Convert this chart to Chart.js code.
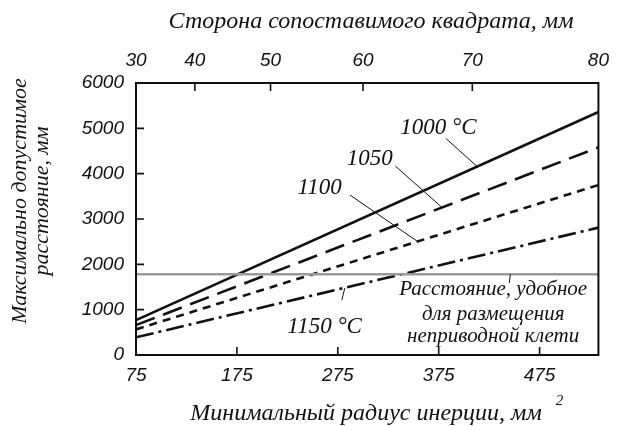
<!DOCTYPE html>
<html>
<head>
<meta charset="utf-8">
<script src="https://cdn.jsdelivr.net/npm/chart.js@4.4.0/dist/chart.umd.min.js"></script>
<style>
html, body { margin: 0; padding: 0; background: #fff; }
</style>
</head>
<body>
<canvas id="c" width="620" height="426"></canvas>
<script>
// minimal radius of inertia (bottom axis)
const radius = [75, 533.33];
// allowed distance for each rolling temperature
const t1000 = [770, 5360];
const t1050 = [660, 4580];
const t1100 = [565, 3750];
const t1150 = [390, 2810];
// distance convenient for the idle stand
const convenient = [1780, 1780];

const xTicks = [75, 175, 275, 375, 475];
const yTicks = [0, 1000, 2000, 3000, 4000, 5000, 6000];
const sideTicks = [30, 40, 50, 60, 70, 80];   // side of comparable square, mm

const serif = '"Liberation Serif", "DejaVu Serif", serif';
const sans = '"Liberation Sans", Arial, sans-serif';

Chart.defaults.font.family = sans;
Chart.defaults.font.size = 19;
Chart.defaults.font.style = 'italic';
Chart.defaults.color = '#111';

function pts(ys) {
	return radius.map((x, i) => ({ x: x, y: ys[i] }));
}

const labels = [
	{ text: '1000 °C', x: 337, y: 4880, from: [382, 4780], to: [413, 4160] },
	{ text: '1050', x: 284, y: 4190, from: [332, 4170], to: [378, 3260] },
	{ text: '1100', x: 235, y: 3550, from: [287, 3530], to: [354, 2505] },
	{ text: '1150 °C', x: 225, y: 485, from: [282, 1480], to: [279, 1210] }
];

const drawExtras = {
	id: 'drawExtras',
	afterDraw(chart) {
		const ctx = chart.ctx;
		const a = chart.chartArea;
		const sx = chart.scales.x, sy = chart.scales.y, st = chart.scales.x2;
		ctx.save();
		ctx.strokeStyle = '#111';
		ctx.lineWidth = 2;
		ctx.strokeRect(a.left, a.top, a.right - a.left, a.bottom - a.top);

		// inward tick marks
		ctx.lineWidth = 1.6;
		ctx.beginPath();
		xTicks.slice(1).forEach(v => {
			const px = sx.getPixelForValue(v);
			ctx.moveTo(px, a.bottom); ctx.lineTo(px, a.bottom - 8);
		});
		yTicks.slice(1, -1).forEach(v => {
			const py = sy.getPixelForValue(v);
			ctx.moveTo(a.left, py); ctx.lineTo(a.left + 8, py);
		});
		sideTicks.slice(1, -1).forEach(s => {
			const px = st.getPixelForValue(s * s / 12);
			ctx.moveTo(px, a.top); ctx.lineTo(px, a.top + 8);
		});
		ctx.stroke();

		// curve labels with leader lines
		ctx.fillStyle = '#111';
		ctx.font = 'italic 23px ' + serif;
		ctx.textAlign = 'left';
		ctx.textBaseline = 'alphabetic';
		ctx.lineWidth = 1;
		labels.forEach(l => {
			ctx.fillText(l.text, sx.getPixelForValue(l.x), sy.getPixelForValue(l.y));
			ctx.beginPath();
			ctx.moveTo(sx.getPixelForValue(l.from[0]), sy.getPixelForValue(l.from[1]));
			ctx.lineTo(sx.getPixelForValue(l.to[0]), sy.getPixelForValue(l.to[1]));
			ctx.stroke();
		});

		// note about the convenient distance
		ctx.font = 'italic 21px ' + serif;
		ctx.textAlign = 'center';
		const nx = sx.getPixelForValue(429);
		ctx.fillText('Расстояние, удобное', nx, sy.getPixelForValue(1320));
		ctx.fillText('для размещения', nx, sy.getPixelForValue(775));
		ctx.fillText('неприводной клети', nx, sy.getPixelForValue(285));
		ctx.beginPath();
		ctx.moveTo(sx.getPixelForValue(446), sy.getPixelForValue(1780));
		ctx.lineTo(sx.getPixelForValue(445), sy.getPixelForValue(1590));
		ctx.stroke();

		// axis titles
		ctx.font = 'italic 24px ' + serif;
		ctx.fillText('Сторона сопоставимого квадрата, мм', 371, 28);
		ctx.fillText('Минимальный радиус инерции, мм', 366, 420);
		const w = ctx.measureText('Минимальный радиус инерции, мм').width;
		ctx.font = 'italic 15px ' + serif;
		ctx.textAlign = 'left';
		ctx.fillText('2', 366 + w / 2 + 14, 405);

		ctx.font = 'italic 22px ' + serif;
		ctx.textAlign = 'center';
		ctx.translate(0, 201);
		ctx.rotate(-Math.PI / 2);
		ctx.fillText('Максимально допустимое', 0, 26);
		ctx.fillText('расстояние, мм', 0, 48);
		ctx.restore();
	}
};

const tickFont = { family: sans, size: 19, style: 'italic' };

const ctx = document.getElementById('c').getContext('2d');
new Chart(ctx, {
	type: 'scatter',
	data: {
		datasets: [
			{ data: pts(convenient), borderColor: '#9a9a9a', borderWidth: 2.5 },
			{ data: pts(t1000), borderColor: '#111', borderWidth: 2.6 },
			{ data: pts(t1050), borderColor: '#111', borderWidth: 2.6, borderDash: [20, 9] },
			{ data: pts(t1100), borderColor: '#111', borderWidth: 2.6, borderDash: [8, 6] },
			{ data: pts(t1150), borderColor: '#111', borderWidth: 2.6, borderDash: [18, 5, 3, 5] }
		].map(d => Object.assign({ showLine: true, pointRadius: 0, fill: false, xAxisID: 'x', yAxisID: 'y' }, d))
	},
	options: {
		responsive: false,
		animation: false,
		devicePixelRatio: 1,
		layout: { padding: { left: 0, right: 14, top: 0, bottom: 0 } },
		plugins: { legend: { display: false }, tooltip: { enabled: false } },
		scales: {
			x: {
				type: 'linear', position: 'bottom', min: radius[0], max: radius[1],
				grid: { display: false, drawTicks: false }, border: { display: false },
				afterBuildTicks: s => { s.ticks = xTicks.map(v => ({ value: v })); },
				afterFit: s => { s.height = 71; },
				ticks: { autoSkip: false, maxRotation: 0, padding: 9, color: '#111', font: tickFont,
					callback: v => String(v) }
			},
			x2: {
				type: 'linear', position: 'top', min: radius[0], max: radius[1],
				grid: { display: false, drawTicks: false }, border: { display: false },
				afterBuildTicks: s => { s.ticks = sideTicks.map(a => ({ value: a * a / 12 })); },
				afterFit: s => { s.height = 83; },
				ticks: { autoSkip: false, maxRotation: 0, padding: 11, color: '#111', font: tickFont,
					callback: (v, i) => String(sideTicks[i]) }
			},
			y: {
				type: 'linear', min: 0, max: 6000,
				grid: { display: false, drawTicks: false }, border: { display: false },
				afterBuildTicks: s => { s.ticks = yTicks.map(v => ({ value: v })); },
				afterFit: s => { s.width = 136; },
				ticks: { autoSkip: false, padding: 12, color: '#111', font: tickFont,
					callback: v => String(v) }
			}
		}
	},
	plugins: [drawExtras]
});
</script>
</body>
</html>
